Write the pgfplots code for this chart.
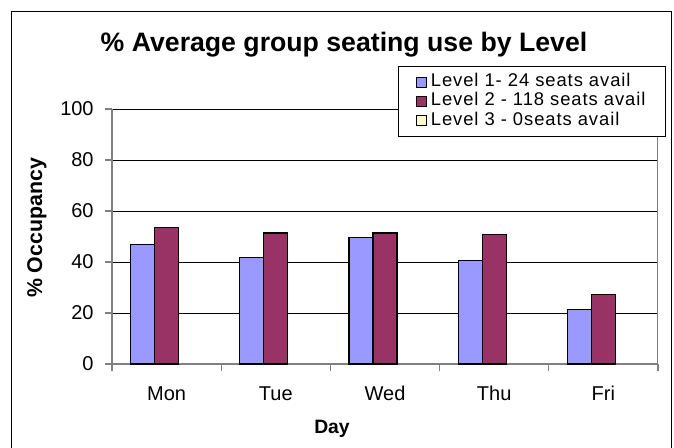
\documentclass[border=0pt]{standalone}
\usepackage{pgfplots}
\pgfplotsset{compat=1.18}
\usepackage{fontspec}
\setmainfont{Liberation Sans}
\definecolor{lvone}{HTML}{9999FF}
\definecolor{lvtwo}{HTML}{993366}
\definecolor{lvthree}{HTML}{FFFFCC}
\definecolor{axgray}{HTML}{808080}
\begin{document}
\begin{tikzpicture}
\useasboundingbox (0,0) rectangle (505.5pt,-335.25pt);
\draw[line width=1pt] (8.7pt,-8.8pt) rectangle (503.8pt,-350pt);
\node[anchor=base, font=\bfseries\fontsize{20}{24}\selectfont] at (258pt,-38.8pt) {\% Average group seating use by Level};
\node[anchor=base, font=\bfseries\fontsize{14.5}{17}\selectfont] at (249pt,-324.75pt) {Day};
\node[rotate=90, anchor=base, font=\bfseries\fontsize{16}{19}\selectfont] at (31.5pt,-171pt) {\% Occupancy};
\begin{axis}[
  at={(84pt,-273pt)}, anchor=south west,
  scale only axis, width=409.5pt, height=191.25pt,
  xmin=-0.5, xmax=4.5, ymin=0, ymax=100,
  ybar, bar width=18pt,
  xtick={-0.5,0.5,1.5,2.5,3.5,4.5},
  xticklabels={Mon,Tue,Wed,Thu,Fri},
  x tick label as interval,
  ytick={0,20,40,60,80,100},
  xtick pos=left, ytick pos=left,
  tick align=outside, major tick length=5.25pt,
  ymajorgrids, grid style={black, line width=0.75pt},
  axis x line*=bottom, axis y line*=left,
  axis line style={axgray, line width=1pt, -},
  tick style={axgray, line width=0.9pt},
  tick label style={font=\fontsize{15}{18}\selectfont},
  /pgf/number format/assume math mode=true,
  xticklabel style={yshift=-8pt},
  yticklabel style={xshift=-5pt},
  legend style={at={(0.5238,1.1686)}, anchor=north west, draw=black, line width=0.75pt,
    font=\fontsize{13.8}{16}\selectfont\addfontfeature{LetterSpace=5},
    inner xsep=13pt, inner ysep=4.5pt,
    nodes={inner ysep=0pt, text height=10.5pt, text depth=4pt}},
  legend cell align=left,
  legend image code/.code={\path[draw=none,fill=none] (0pt,0pt) -- (9pt,0pt);
    \draw[#1, draw=black, line width=0.6pt] (0pt,-3.75pt) rectangle (7.5pt,3.75pt);},
]
\addplot[fill=lvone, draw=black, line width=0.9pt, bar shift=-18pt] coordinates {(0,47.0) (1,41.8) (2,49.5) (3,40.5) (4,21.4)};
\addlegendentry{Level 1- 24 seats avail}
\addplot[fill=lvtwo, draw=black, line width=0.9pt, bar shift=0pt] coordinates {(0,53.5) (1,51.4) (2,51.4) (3,50.8) (4,27.3)};
\addlegendentry{Level 2 - 118 seats avail}
\addlegendimage{fill=lvthree}
\addlegendentry{Level 3 - 0seats avail}
\draw[axgray, line width=1pt] (rel axis cs:1,0) -- (rel axis cs:1,1);
\end{axis}
\end{tikzpicture}
\end{document}
